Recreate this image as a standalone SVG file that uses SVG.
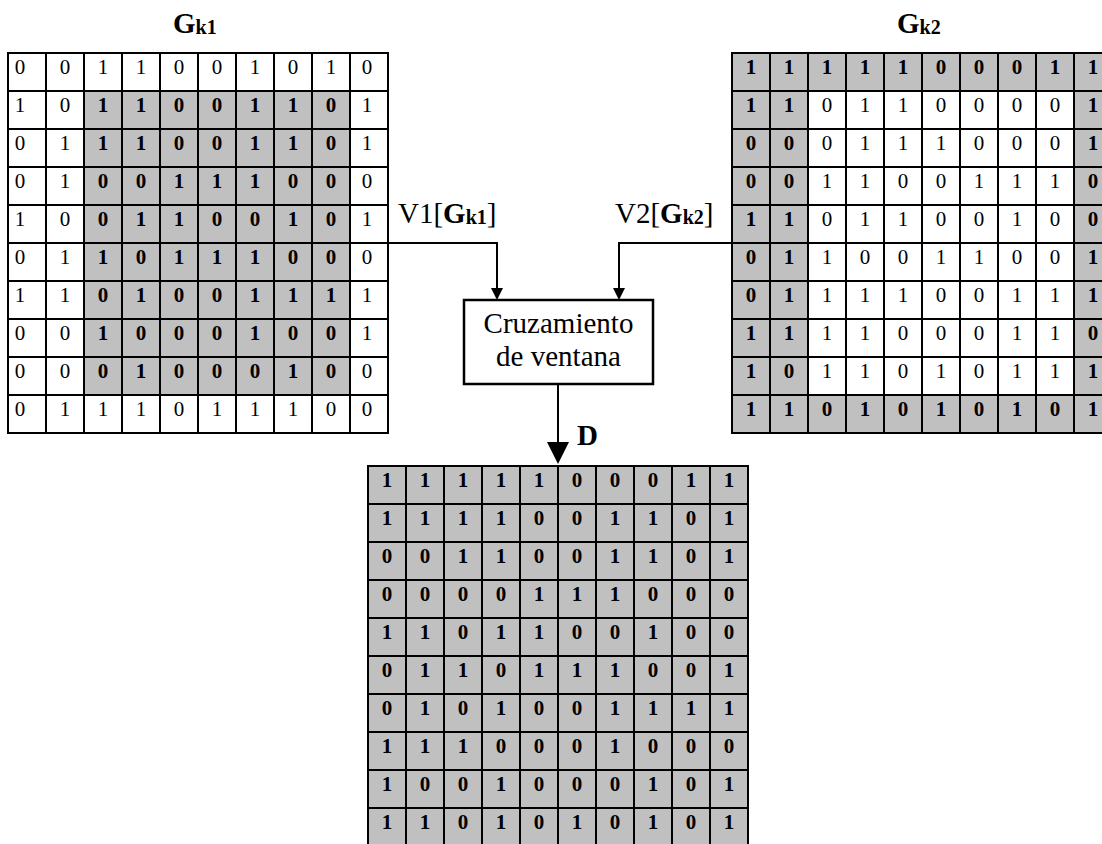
<svg xmlns="http://www.w3.org/2000/svg" width="1102" height="844" viewBox="0 0 1102 844">
  <style>
    .grid { fill: none; stroke: #000; stroke-width: 2; stroke-linecap: square; }
    .shade { fill: #c0c0c0; }
    .cells text { font-family: "Liberation Serif", "Times New Roman", serif; font-size: 21px; text-anchor: middle; fill: #000; }
    .cells .b, .bold text { font-weight: bold; }
    .lbl { font-family: "Liberation Serif", "Times New Roman", serif; font-size: 29px; fill: #000; }
    .lbl .bb { font-weight: bold; }
    .sub { font-size: 20px; font-weight: bold; }
    .conn { fill: none; stroke: #000; stroke-width: 2; }
    .box { fill: #fff; stroke: #000; stroke-width: 2.5; }
  </style>
  <defs>
    <marker id="arrowSmall" markerUnits="userSpaceOnUse" markerWidth="12" markerHeight="12" refX="2" refY="6" orient="auto">
      <path d="M0,0 L12,6 L0,12 Z" fill="#000"/>
    </marker>
    <marker id="arrowLarge" markerUnits="userSpaceOnUse" markerWidth="22" markerHeight="22" refX="2" refY="11" orient="auto">
      <path d="M0,0 L22,11 L0,22 Z" fill="#000"/>
    </marker>
  </defs>
  <rect width="1102" height="844" fill="#fff"/>

  <!-- Titles -->
  <text class="lbl" x="173" y="33"><tspan class="bb">G</tspan><tspan class="sub" dy="1">k1</tspan></text>
  <text class="lbl" x="897" y="33"><tspan class="bb">G</tspan><tspan class="sub" dy="1">k2</tspan></text>

  <!-- Matrix Gk1 -->
  <g id="gk1">
    <rect class="shade" x="84" y="91" width="266" height="304"/>
    <path class="grid" d="M8,53V433M46,53V433M84,53V433M122,53V433M160,53V433M198,53V433M236,53V433M274,53V433M312,53V433M350,53V433M388,53V433M8,53H388M8,91H388M8,129H388M8,167H388M8,205H388M8,243H388M8,281H388M8,319H388M8,357H388M8,395H388M8,433H388"/>
    <g class="cells">
      <g transform="translate(0,74)"><text x="20">0</text><text x="65">0</text><text x="103">1</text><text x="141">1</text><text x="179">0</text><text x="217">0</text><text x="255">1</text><text x="293">0</text><text x="331">1</text><text x="367">0</text></g>
      <g transform="translate(0,112)"><text x="20">1</text><text x="65">0</text><text class="b" x="103">1</text><text class="b" x="141">1</text><text class="b" x="179">0</text><text class="b" x="217">0</text><text class="b" x="255">1</text><text class="b" x="293">1</text><text class="b" x="331">0</text><text x="367">1</text></g>
      <g transform="translate(0,150)"><text x="20">0</text><text x="65">1</text><text class="b" x="103">1</text><text class="b" x="141">1</text><text class="b" x="179">0</text><text class="b" x="217">0</text><text class="b" x="255">1</text><text class="b" x="293">1</text><text class="b" x="331">0</text><text x="367">1</text></g>
      <g transform="translate(0,188)"><text x="20">0</text><text x="65">1</text><text class="b" x="103">0</text><text class="b" x="141">0</text><text class="b" x="179">1</text><text class="b" x="217">1</text><text class="b" x="255">1</text><text class="b" x="293">0</text><text class="b" x="331">0</text><text x="367">0</text></g>
      <g transform="translate(0,226)"><text x="20">1</text><text x="65">0</text><text class="b" x="103">0</text><text class="b" x="141">1</text><text class="b" x="179">1</text><text class="b" x="217">0</text><text class="b" x="255">0</text><text class="b" x="293">1</text><text class="b" x="331">0</text><text x="367">1</text></g>
      <g transform="translate(0,264)"><text x="20">0</text><text x="65">1</text><text class="b" x="103">1</text><text class="b" x="141">0</text><text class="b" x="179">1</text><text class="b" x="217">1</text><text class="b" x="255">1</text><text class="b" x="293">0</text><text class="b" x="331">0</text><text x="367">0</text></g>
      <g transform="translate(0,302)"><text x="20">1</text><text x="65">1</text><text class="b" x="103">0</text><text class="b" x="141">1</text><text class="b" x="179">0</text><text class="b" x="217">0</text><text class="b" x="255">1</text><text class="b" x="293">1</text><text class="b" x="331">1</text><text x="367">1</text></g>
      <g transform="translate(0,340)"><text x="20">0</text><text x="65">0</text><text class="b" x="103">1</text><text class="b" x="141">0</text><text class="b" x="179">0</text><text class="b" x="217">0</text><text class="b" x="255">1</text><text class="b" x="293">0</text><text class="b" x="331">0</text><text x="367">1</text></g>
      <g transform="translate(0,378)"><text x="20">0</text><text x="65">0</text><text class="b" x="103">0</text><text class="b" x="141">1</text><text class="b" x="179">0</text><text class="b" x="217">0</text><text class="b" x="255">0</text><text class="b" x="293">1</text><text class="b" x="331">0</text><text x="367">0</text></g>
      <g transform="translate(0,416)"><text x="20">0</text><text x="65">1</text><text x="103">1</text><text x="141">1</text><text x="179">0</text><text x="217">1</text><text x="255">1</text><text x="293">1</text><text x="331">0</text><text x="367">0</text></g>
    </g>
  </g>

  <!-- Matrix Gk2 -->
  <g id="gk2">
    <rect class="shade" x="732" y="53" width="380" height="380"/>
    <rect x="808" y="91" width="266" height="304" fill="#fff"/>
    <path class="grid" d="M732,53V433M770,53V433M808,53V433M846,53V433M884,53V433M922,53V433M960,53V433M998,53V433M1036,53V433M1074,53V433M1112,53V433M732,53H1112M732,91H1112M732,129H1112M732,167H1112M732,205H1112M732,243H1112M732,281H1112M732,319H1112M732,357H1112M732,395H1112M732,433H1112"/>
    <g class="cells">
      <g transform="translate(0,74)"><text class="b" x="751">1</text><text class="b" x="789">1</text><text class="b" x="827">1</text><text class="b" x="865">1</text><text class="b" x="903">1</text><text class="b" x="941">0</text><text class="b" x="979">0</text><text class="b" x="1017">0</text><text class="b" x="1055">1</text><text class="b" x="1093">1</text></g>
      <g transform="translate(0,112)"><text class="b" x="751">1</text><text class="b" x="789">1</text><text x="827">0</text><text x="865">1</text><text x="903">1</text><text x="941">0</text><text x="979">0</text><text x="1017">0</text><text x="1055">0</text><text class="b" x="1093">1</text></g>
      <g transform="translate(0,150)"><text class="b" x="751">0</text><text class="b" x="789">0</text><text x="827">0</text><text x="865">1</text><text x="903">1</text><text x="941">1</text><text x="979">0</text><text x="1017">0</text><text x="1055">0</text><text class="b" x="1093">1</text></g>
      <g transform="translate(0,188)"><text class="b" x="751">0</text><text class="b" x="789">0</text><text x="827">1</text><text x="865">1</text><text x="903">0</text><text x="941">0</text><text x="979">1</text><text x="1017">1</text><text x="1055">1</text><text class="b" x="1093">0</text></g>
      <g transform="translate(0,226)"><text class="b" x="751">1</text><text class="b" x="789">1</text><text x="827">0</text><text x="865">1</text><text x="903">1</text><text x="941">0</text><text x="979">0</text><text x="1017">1</text><text x="1055">0</text><text class="b" x="1093">0</text></g>
      <g transform="translate(0,264)"><text class="b" x="751">0</text><text class="b" x="789">1</text><text x="827">1</text><text x="865">0</text><text x="903">0</text><text x="941">1</text><text x="979">1</text><text x="1017">0</text><text x="1055">0</text><text class="b" x="1093">1</text></g>
      <g transform="translate(0,302)"><text class="b" x="751">0</text><text class="b" x="789">1</text><text x="827">1</text><text x="865">1</text><text x="903">1</text><text x="941">0</text><text x="979">0</text><text x="1017">1</text><text x="1055">1</text><text class="b" x="1093">1</text></g>
      <g transform="translate(0,340)"><text class="b" x="751">1</text><text class="b" x="789">1</text><text x="827">1</text><text x="865">1</text><text x="903">0</text><text x="941">0</text><text x="979">0</text><text x="1017">1</text><text x="1055">1</text><text class="b" x="1093">0</text></g>
      <g transform="translate(0,378)"><text class="b" x="751">1</text><text class="b" x="789">0</text><text x="827">1</text><text x="865">1</text><text x="903">0</text><text x="941">1</text><text x="979">0</text><text x="1017">1</text><text x="1055">1</text><text class="b" x="1093">1</text></g>
      <g transform="translate(0,416)"><text class="b" x="751">1</text><text class="b" x="789">1</text><text class="b" x="827">0</text><text class="b" x="865">1</text><text class="b" x="903">0</text><text class="b" x="941">1</text><text class="b" x="979">0</text><text class="b" x="1017">1</text><text class="b" x="1055">0</text><text class="b" x="1093">1</text></g>
    </g>
  </g>

  <!-- Crossover block -->
  <g id="cruce">
    <rect class="box" x="464" y="300" width="189" height="84"/>
    <text class="lbl" x="558.5" y="333" text-anchor="middle">Cruzamiento</text>
    <text class="lbl" x="558.5" y="366" text-anchor="middle">de ventana</text>
  </g>

  <!-- Connectors -->
  <g id="connectors">
    <path class="conn" d="M388,243H497V290" marker-end="url(#arrowSmall)"/>
    <path class="conn" d="M732,243H619V290" marker-end="url(#arrowSmall)"/>
    <path class="conn" d="M558,384V444" marker-end="url(#arrowLarge)"/>
    <text class="lbl" x="398" y="223">V1[<tspan class="bb">G</tspan><tspan class="sub" dy="1">k1</tspan><tspan dy="-1">]</tspan></text>
    <text class="lbl" x="615" y="223">V2[<tspan class="bb">G</tspan><tspan class="sub" dy="1">k2</tspan><tspan dy="-1">]</tspan></text>
    <text class="lbl" x="577" y="445"><tspan class="bb">D</tspan></text>
  </g>

  <!-- Matrix D -->
  <g id="d">
    <rect class="shade" x="368" y="466" width="380" height="380"/>
    <path class="grid" d="M368,466V846M406,466V846M444,466V846M482,466V846M520,466V846M558,466V846M596,466V846M634,466V846M672,466V846M710,466V846M748,466V846M368,466H748M368,504H748M368,542H748M368,580H748M368,618H748M368,656H748M368,694H748M368,732H748M368,770H748M368,808H748M368,846H748"/>
    <g class="cells bold">
      <g transform="translate(0,487)"><text x="387">1</text><text x="425">1</text><text x="463">1</text><text x="501">1</text><text x="539">1</text><text x="577">0</text><text x="615">0</text><text x="653">0</text><text x="691">1</text><text x="729">1</text></g>
      <g transform="translate(0,525)"><text x="387">1</text><text x="425">1</text><text x="463">1</text><text x="501">1</text><text x="539">0</text><text x="577">0</text><text x="615">1</text><text x="653">1</text><text x="691">0</text><text x="729">1</text></g>
      <g transform="translate(0,563)"><text x="387">0</text><text x="425">0</text><text x="463">1</text><text x="501">1</text><text x="539">0</text><text x="577">0</text><text x="615">1</text><text x="653">1</text><text x="691">0</text><text x="729">1</text></g>
      <g transform="translate(0,601)"><text x="387">0</text><text x="425">0</text><text x="463">0</text><text x="501">0</text><text x="539">1</text><text x="577">1</text><text x="615">1</text><text x="653">0</text><text x="691">0</text><text x="729">0</text></g>
      <g transform="translate(0,639)"><text x="387">1</text><text x="425">1</text><text x="463">0</text><text x="501">1</text><text x="539">1</text><text x="577">0</text><text x="615">0</text><text x="653">1</text><text x="691">0</text><text x="729">0</text></g>
      <g transform="translate(0,677)"><text x="387">0</text><text x="425">1</text><text x="463">1</text><text x="501">0</text><text x="539">1</text><text x="577">1</text><text x="615">1</text><text x="653">0</text><text x="691">0</text><text x="729">1</text></g>
      <g transform="translate(0,715)"><text x="387">0</text><text x="425">1</text><text x="463">0</text><text x="501">1</text><text x="539">0</text><text x="577">0</text><text x="615">1</text><text x="653">1</text><text x="691">1</text><text x="729">1</text></g>
      <g transform="translate(0,753)"><text x="387">1</text><text x="425">1</text><text x="463">1</text><text x="501">0</text><text x="539">0</text><text x="577">0</text><text x="615">1</text><text x="653">0</text><text x="691">0</text><text x="729">0</text></g>
      <g transform="translate(0,791)"><text x="387">1</text><text x="425">0</text><text x="463">0</text><text x="501">1</text><text x="539">0</text><text x="577">0</text><text x="615">0</text><text x="653">1</text><text x="691">0</text><text x="729">1</text></g>
      <g transform="translate(0,829)"><text x="387">1</text><text x="425">1</text><text x="463">0</text><text x="501">1</text><text x="539">0</text><text x="577">1</text><text x="615">0</text><text x="653">1</text><text x="691">0</text><text x="729">1</text></g>
    </g>
  </g>
</svg>
